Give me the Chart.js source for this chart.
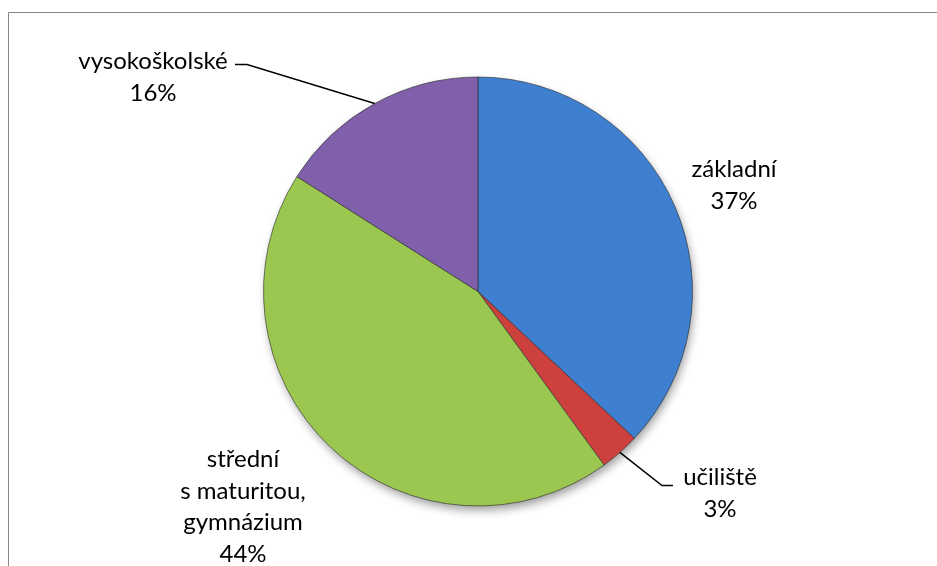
<!DOCTYPE html>
<html>
<head>
<meta charset="utf-8">
<script src="https://cdn.jsdelivr.net/npm/chart.js@4/dist/chart.umd.min.js"></script>
<style>
html,body{margin:0;padding:0;background:#fff;}
#wrap{width:937px;height:566px;position:relative;}
</style>
</head>
<body>
<div id="wrap"><canvas id="c" width="937" height="566"></canvas></div>
<script>
// ---- data ----
const categories = ['základní', 'učiliště', 'střední\ns maturitou,\ngymnázium', 'vysokoškolské'];
const values = [37, 3, 44, 16];
const percentLabels = ['37%', '3%', '44%', '16%'];

// ---- style ----
const colors = ['#3f7fcf', '#cc413d', '#9bc64f', '#8060aa'];
const darkColors = ['#2f64a8', '#9e2e2b', '#789c38', '#5f4684'];
const lightColors = ['#6a9ee0', '#de6d69', '#b7dc74', '#a283c8'];
// label block placement relative to pie centre (px), and leader elbows
const labelOffsets = [
  {dx: 256, dy: -122, leader: null},
  {dx: 242, dy: 186, leader: {elbow: [184, 194], end: [195, 194]}},
  {dx: -235, dy: 168, leader: null},
  {dx: -325, dy: -230, leader: {elbow: [-231, -227], end: [-243, -227]}}
];
const FONT = '24px Lato, "Open Sans", sans-serif';
const LINE_H = 31.5;

const framePlugin = {
  id: 'frame',
  beforeDraw(chart) {
    const ctx = chart.ctx;
    ctx.save();
    ctx.strokeStyle = '#878787';
    ctx.lineWidth = 1;
    ctx.beginPath();
    ctx.moveTo(8.5, 566);
    ctx.lineTo(8.5, 12.5);
    ctx.lineTo(937, 12.5);
    ctx.stroke();
    ctx.restore();
  }
};

const shadowPlugin = {
  id: 'pieShadow',
  beforeDatasetsDraw(chart) {
    const arc = chart.getDatasetMeta(0).data[0];
    if (!arc) return;
    const ctx = chart.ctx;
    ctx.save();
    ctx.shadowColor = 'rgba(0,0,0,0.4)';
    ctx.shadowBlur = 10;
    ctx.shadowOffsetX = 2;
    ctx.shadowOffsetY = 5;
    ctx.fillStyle = '#fff';
    ctx.beginPath();
    ctx.arc(arc.x, arc.y, arc.outerRadius - 1, 0, Math.PI * 2);
    ctx.fill();
    ctx.restore();
  }
};

const labelPlugin = {
  id: 'sliceLabels',
  afterDatasetsDraw(chart) {
    const meta = chart.getDatasetMeta(0);
    const ctx = chart.ctx;
    ctx.save();
    ctx.font = FONT;
    ctx.fillStyle = '#000';
    ctx.textAlign = 'center';
    ctx.textBaseline = 'middle';
    meta.data.forEach((arc, i) => {
      const cx = arc.x, cy = arc.y;
      const off = labelOffsets[i];
      const lines = categories[i].split('\n').concat([percentLabels[i]]);
      lines.forEach((t, k) => {
        ctx.fillText(t, cx + off.dx, cy + off.dy + k * LINE_H);
      });
      if (off.leader) {
        const mid = (arc.startAngle + arc.endAngle) / 2;
        const r = arc.outerRadius;
        const px = cx + Math.cos(mid) * r;
        const py = cy + Math.sin(mid) * r;
        ctx.strokeStyle = '#000';
        ctx.lineWidth = 1.5;
        ctx.beginPath();
        ctx.moveTo(px, py);
        ctx.lineTo(cx + off.leader.elbow[0], cy + off.leader.elbow[1]);
        ctx.lineTo(cx + off.leader.end[0], cy + off.leader.end[1]);
        ctx.stroke();
      }
    });
    ctx.restore();
  }
};

function sliceFill(context) {
  const chart = context.chart;
  const i = context.dataIndex;
  const arc = chart.getDatasetMeta(0).data[i];
  if (!arc || !arc.outerRadius) return colors[i];
  const g = chart.ctx.createRadialGradient(arc.x, arc.y, 0, arc.x, arc.y, arc.outerRadius);
  g.addColorStop(0, colors[i]);
  g.addColorStop(0.9, colors[i]);
  g.addColorStop(0.955, lightColors[i]);
  g.addColorStop(0.985, colors[i]);
  g.addColorStop(1, darkColors[i]);
  return g;
}

new Chart(document.getElementById('c'), {
  type: 'pie',
  data: {
    labels: categories,
    datasets: [{
      data: values,
      backgroundColor: sliceFill,
      borderColor: 'rgba(40,40,40,0.6)',
      borderWidth: 1
    }]
  },
  options: {
    responsive: false,
    animation: false,
    layout: {padding: {left: 263, right: 244, top: 76, bottom: 59}},
    plugins: {legend: {display: false}, tooltip: {enabled: false}}
  },
  plugins: [framePlugin, shadowPlugin, labelPlugin]
});
</script>
</body>
</html>
